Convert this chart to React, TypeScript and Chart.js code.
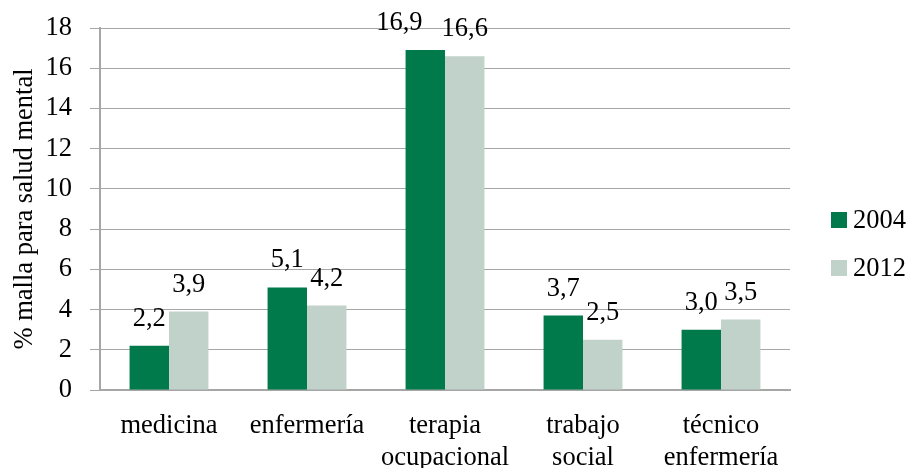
import React, { useEffect, useRef } from "react";
import { Chart, registerables } from "chart.js";

Chart.register(...registerables);

const FONT = "'Liberation Serif', 'Times New Roman', serif";
const FS = 26.5;

const categories: string[][] = [
  ["medicina"],
  ["enfermería"],
  ["terapia", "ocupacional"],
  ["trabajo", "social"],
  ["técnico", "enfermería"],
];
const seriesNames = ["2004", "2012"];
const values2004 = [2.2, 5.1, 16.9, 3.7, 3.0];
const values2012 = [3.9, 4.2, 16.6, 2.5, 3.5];
const seriesColors = ["#007A4B", "#C0D2C9"];
const yMin = 0;
const yMax = 18;
const yStep = 2;
const yTitle = "% malla para salud mental";

const valueLabels = {
  id: "valueLabels",
  afterDatasetsDraw(chart: any) {
    const ctx = chart.ctx;
    ctx.save();
    ctx.font = `${FS}px ${FONT}`;
    ctx.fillStyle = "#000";
    ctx.textAlign = "center";
    ctx.textBaseline = "alphabetic";
    const n = chart.data.labels.length;
    for (let j = 0; j < n; j++) {
      const items = chart.data.datasets.map((ds: any, i: number) => {
        const el = chart.getDatasetMeta(i).data[j];
        const text = Number(ds.data[j]).toFixed(1).replace(".", ",");
        return { x: el.x, y: el.y - 20, text, w: ctx.measureText(text).width };
      });
      if (items.length === 2) {
        const [a, b] = items;
        if (Math.abs(a.y - b.y) < 16 && a.x + a.w / 2 > b.x - b.w / 2) {
          a.x = b.x - b.w / 2 - 19 - a.w / 2;
        }
      }
      items.forEach((it: any) => ctx.fillText(it.text, it.x, it.y));
    }
    ctx.restore();
  },
};

const sideLegend = {
  id: "sideLegend",
  afterDraw(chart: any) {
    const { ctx, chartArea } = chart;
    ctx.save();
    ctx.font = `${FS}px ${FONT}`;
    ctx.textAlign = "left";
    ctx.textBaseline = "alphabetic";
    const x = chartArea.right + 41;
    const y0 = (chartArea.top + chartArea.bottom) / 2 + 3;
    chart.data.datasets.forEach((ds: any, i: number) => {
      const y = y0 + i * 48;
      ctx.fillStyle = ds.backgroundColor;
      ctx.fillRect(x, y, 16, 16);
      ctx.fillStyle = "#000";
      ctx.fillText(ds.label, x + 22, y + 16);
    });
    ctx.restore();
  },
};

export default function App() {
  const ref = useRef<HTMLCanvasElement | null>(null);

  useEffect(() => {
    if (!ref.current) return;
    const chart = new Chart(ref.current, {
      type: "bar",
      data: {
        labels: categories,
        datasets: [
          { label: seriesNames[0], data: values2004, backgroundColor: seriesColors[0] },
          { label: seriesNames[1], data: values2012, backgroundColor: seriesColors[1] },
        ],
      },
      options: {
        animation: false,
        responsive: true,
        maintainAspectRatio: false,
        layout: { padding: { left: 0, right: 117, top: 28, bottom: 0 } },
        plugins: {
          legend: { display: false },
          tooltip: { enabled: false },
        },
        datasets: {
          bar: { categoryPercentage: 2 / 3.5, barPercentage: 1 },
        },
        scales: {
          x: {
            grid: { display: false, drawTicks: false },
            border: { display: true, color: "#A6A6A6", width: 2 },
            ticks: {
              color: "#000",
              font: { family: FONT, size: FS, lineHeight: 1.22 },
              padding: 20,
              maxRotation: 0,
              autoSkip: false,
            },
            afterFit(scale: any) {
              scale.height = 78;
            },
          },
          y: {
            min: yMin,
            max: yMax,
            ticks: {
              stepSize: yStep,
              color: "#000",
              font: { family: FONT, size: FS, lineHeight: 0.4 },
              padding: 18,
            },
            grid: { color: "#A6A6A6", lineWidth: 1, tickLength: 10, drawTicks: true },
            border: { display: true, color: "#A6A6A6", width: 2 },
            title: {
              display: true,
              text: yTitle,
              color: "#000",
              font: { family: FONT, size: FS },
              padding: { top: 9, bottom: 0 },
            },
            afterFit(scale: any) {
              scale.width = 100;
            },
          },
        },
      },
      plugins: [valueLabels, sideLegend],
    });
    return () => chart.destroy();
  }, []);

  return (
    <div style={{ position: "absolute", left: 0, top: 0, width: 907, height: 468 }}>
      <canvas ref={ref} />
    </div>
  );
}
